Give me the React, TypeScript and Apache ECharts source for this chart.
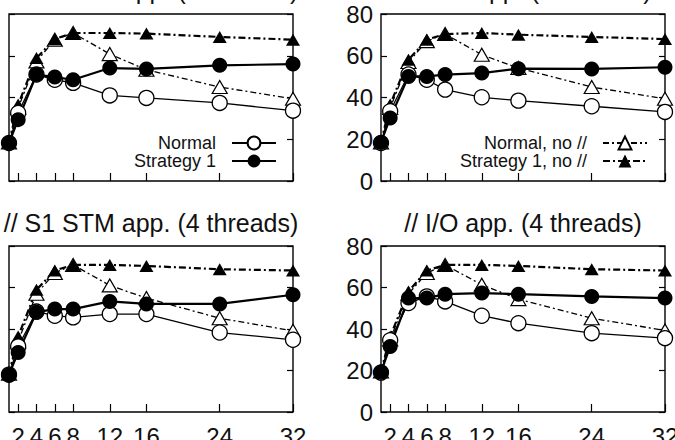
import React, { useEffect, useRef } from "react";
import * as echarts from "echarts";

// threads on the x axis
const threads = [1, 2, 4, 6, 8, 12, 16, 24, 32];
const xTickValues = [2, 4, 6, 8, 12, 16, 24, 32];

const panelTitles = [
  "// S1 CPU app. (4 threads)",
  "// CPU app. (4 threads)",
  "// S1 STM app. (4 threads)",
  "// I/O app. (4 threads)",
];

const seriesNames = ["Normal", "Strategy 1", "Normal, no //", "Strategy 1, no //"];

// top-left panel
const tlNormal = [18.2, 32.6, 51.0, 48.5, 47.0, 41.0, 39.8, 37.4, 33.7];
const tlStrategy1 = [18.2, 29.4, 51.0, 49.8, 48.5, 54.1, 53.7, 55.4, 56.0];
const tlNormalNoPar = [18.5, 35.0, 57.3, 67.7, 70.9, 60.8, 53.3, 45.0, 39.4];
const tlStrategy1NoPar = [18.5, 36.6, 58.9, 68.0, 70.9, 70.9, 70.6, 69.0, 67.7];

// top-right panel
const trNormal = [18.2, 33.4, 51.0, 48.5, 43.8, 40.1, 38.5, 35.8, 33.1];
const trStrategy1 = [18.5, 30.2, 50.1, 50.1, 51.0, 51.7, 53.8, 53.7, 54.5];
const trNormalNoPar = [18.5, 35.0, 57.0, 67.0, 70.4, 60.5, 54.1, 45.0, 39.4];
const trStrategy1NoPar = [18.5, 36.6, 58.1, 67.7, 70.4, 70.9, 70.1, 69.0, 68.0];

// bottom-left panel
const blNormal = [18.0, 31.6, 48.4, 46.4, 45.6, 47.2, 47.2, 38.3, 34.8];
const blStrategy1 = [18.0, 28.7, 48.1, 49.6, 49.6, 53.3, 52.1, 52.1, 56.5];
const blNormalNoPar = [18.5, 34.0, 57.0, 67.0, 70.9, 61.0, 54.9, 45.2, 39.1];
const blStrategy1NoPar = [18.5, 36.4, 58.9, 68.2, 70.9, 70.9, 70.4, 68.8, 68.2];

// bottom-right panel
const brNormal = [19.0, 34.6, 52.5, 55.7, 53.3, 46.4, 42.8, 38.0, 35.6];
const brStrategy1 = [19.2, 31.6, 54.9, 54.9, 56.8, 57.3, 56.8, 55.7, 54.9];
const brNormalNoPar = [19.5, 35.0, 57.0, 67.0, 70.9, 61.3, 54.4, 45.2, 39.3];
const brStrategy1NoPar = [19.5, 36.4, 58.1, 68.2, 70.9, 70.9, 70.4, 68.8, 68.2];

const panels = [
  [tlNormal, tlStrategy1, tlNormalNoPar, tlStrategy1NoPar],
  [trNormal, trStrategy1, trNormalNoPar, trStrategy1NoPar],
  [blNormal, blStrategy1, blNormalNoPar, blStrategy1NoPar],
  [brNormal, brStrategy1, brNormalNoPar, brStrategy1NoPar],
];

const FONT = "'Liberation Sans', Arial, Helvetica, sans-serif";
const INK = "#111";

const grids = [
  { left: 9, top: 14, width: 284, height: 167 },
  { left: 381, top: 14, width: 284, height: 167 },
  { left: 9, top: 246, width: 284, height: 166 },
  { left: 381, top: 246, width: 284, height: 166 },
];

const styles: any[] = [
  {
    symbol: "circle",
    symbolSize: 15,
    itemStyle: { color: "#fff", borderColor: "#000", borderWidth: 1.3 },
    lineStyle: { color: "#000", width: 1.3, type: "solid" },
  },
  {
    symbol: "circle",
    symbolSize: 15,
    itemStyle: { color: "#000", borderColor: "#000", borderWidth: 0 },
    lineStyle: { color: "#000", width: 2.2, type: "solid" },
  },
  {
    symbol: "triangle",
    symbolSize: [15, 13],
    itemStyle: { color: "#fff", borderColor: "#000", borderWidth: 1.2 },
    lineStyle: { color: "#000", width: 1.3, type: [6, 3, 2, 3] },
  },
  {
    symbol: "triangle",
    symbolSize: [14, 12],
    itemStyle: { color: "#000", borderColor: "#000", borderWidth: 0 },
    lineStyle: { color: "#000", width: 2.2, type: [7, 3, 2, 3] },
  },
];

// draw order: no-// series first, then Normal, then Strategy 1
const drawOrder = [2, 3, 0, 1];

function buildOption() {
  const xAxis: any[] = [];
  const yAxis: any[] = [];
  const series: any[] = [];
  const graphic: any[] = [];

  grids.forEach((g, i) => {
    xAxis.push({
      type: "value",
      gridIndex: i,
      min: 1,
      max: 32,
      axisLine: { show: false },
      splitLine: { show: false },
      axisTick: {
        show: true,
        inside: true,
        length: 8,
        customValues: xTickValues,
        lineStyle: { color: "#000", width: 1.2 },
      },
      axisLabel: {
        show: i >= 2,
        customValues: xTickValues,
        margin: 12,
        fontSize: 24,
        fontFamily: FONT,
        color: INK,
      },
    });
    ["left", "right"].forEach((pos) => {
      yAxis.push({
        type: "value",
        gridIndex: i,
        position: pos,
        min: 0,
        max: 80,
        interval: 20,
        axisLine: { show: false },
        splitLine: { show: false },
        axisTick: {
          show: true,
          inside: true,
          length: 6,
          lineStyle: { color: "#000", width: 1.2 },
        },
        axisLabel: {
          show: pos === "left" && i % 2 === 1,
          margin: 8,
          fontSize: 24,
          fontFamily: FONT,
          color: INK,
        },
      });
    });

    drawOrder.forEach((k) => {
      const st = styles[k];
      series.push({
        type: "line",
        name: seriesNames[k],
        xAxisIndex: i,
        yAxisIndex: i * 2,
        data: threads.map((t, j) => [t, panels[i][k][j]]),
        color: "#000",
        symbol: st.symbol,
        symbolSize: st.symbolSize,
        showAllSymbol: true,
        itemStyle: st.itemStyle,
        lineStyle: st.lineStyle,
        emphasis: { disabled: true },
        silent: true,
        z: 2,
      });
    });

    const cx = g.left + g.width / 2;
    const cy = i < 2 ? -10.2 : 222.7;
    graphic.push({
      type: "text",
      x: cx,
      y: cy,
      silent: true,
      style: {
        text: panelTitles[i],
        fontSize: 25,
        fontFamily: FONT,
        fill: INK,
        align: "center",
        verticalAlign: "middle",
      },
    });
  });

  const legendBase = (name: string, right: number, top: number) => ({
    data: [name],
    orient: "vertical",
    right,
    top,
    padding: 0,
    align: "right",
    itemWidth: 44,
    itemHeight: 16,
    selectedMode: false,
    textStyle: {
      fontSize: 18,
      lineHeight: 16,
      fontFamily: FONT,
      color: INK,
      padding: [0, 11, 0, 0],
    },
  });

  const legend = [
    legendBase(seriesNames[0], 675 - 277, 134),
    legendBase(seriesNames[1], 675 - 277, 152),
    legendBase(seriesNames[2], 675 - 648, 134),
    legendBase(seriesNames[3], 675 - 648, 152),
  ];

  return {
    animation: false,
    backgroundColor: "#fff",
    grid: grids.map((g) => ({
      ...g,
      show: true,
      borderColor: "#000",
      borderWidth: 1.4,
      backgroundColor: "transparent",
      containLabel: false,
      outerBoundsMode: "none",
    })),
    xAxis,
    yAxis,
    series,
    legend,
    graphic,
  };
}

export default function App() {
  const ref = useRef<HTMLDivElement>(null);
  useEffect(() => {
    if (!ref.current) return;
    const chart = echarts.init(ref.current, undefined, { renderer: "svg" });
    chart.setOption(buildOption() as any);
    return () => chart.dispose();
  }, []);
  return (
    <div
      ref={ref}
      style={{ position: "absolute", left: 0, top: 0, width: 675, height: 440 }}
    />
  );
}
